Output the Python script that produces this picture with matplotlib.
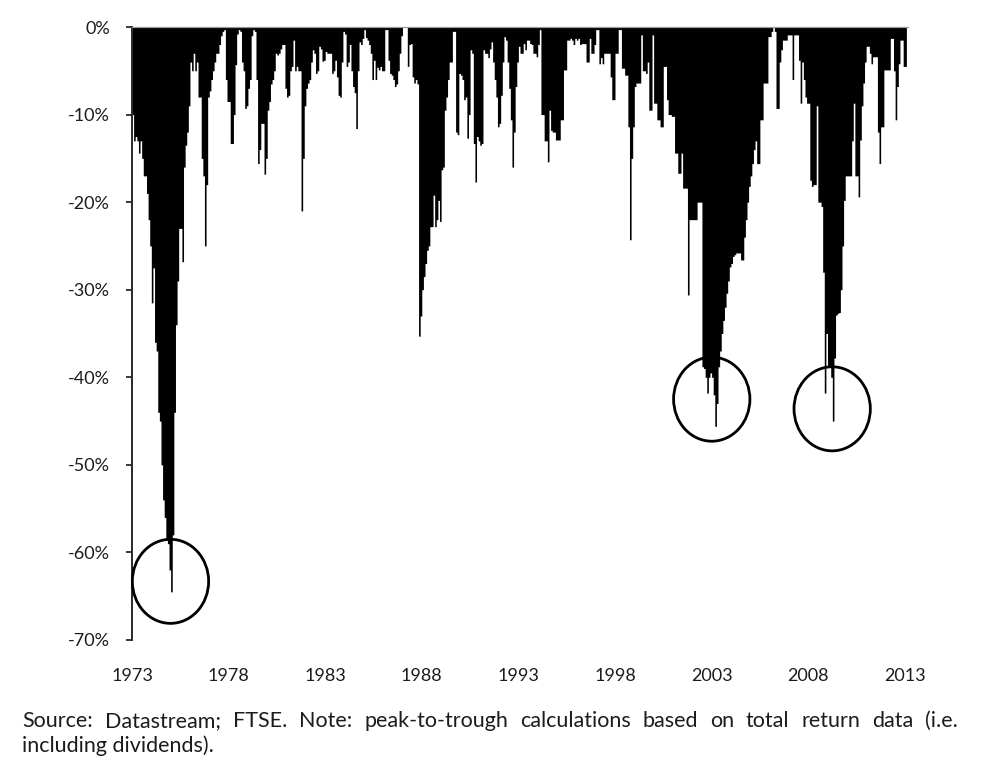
import matplotlib
matplotlib.use("Agg")
import matplotlib.pyplot as plt
import numpy as np
from matplotlib.patches import Ellipse

# Peak-to-trough drawdown (%), one value per month
START_YEAR = 1973
DD_1970S = [
    -10, -13, -12.5, -13, -14.4, -13, -15, -17, -17, -19, -22, -25,            # 1973
    -31.5, -27.5, -36, -37, -44, -45, -50, -54, -56, -58.6, -59, -62,          # 1974
    -64.5, -58, -44, -34, -29, -23, -23, -26.8, -16, -13.5, -12, -9,           # 1975
    -4, -5, -3, -5, -4, -8, -8, -15, -17, -25, -18, -8,                        # 1976
    -7.3, -6, -5, -4, -3, -3, -2, -1, -0.5, -0.3, -6, -8.5,                    # 1977
    -8.5, -13.3, -13.3, -10, -4.3, -0.8, -0.3, -0.5, -4, -5, -9.3, -9,         # 1978
    -7, -6, -1, -0.3, -0.5, -6, -15.6, -14, -11, -11, -16.8, -15,              # 1979
]
DD_1980S = [
    -9.5, -8.5, -6.5, -6, -5, -3, -3.2, -3, -2.5, -2, -2, -7,                  # 1980
    -8, -7.8, -5, -4.5, -1.5, -5, -4.5, -5, -5, -21, -15, -9,                  # 1981
    -7, -6.4, -6, -4, -2.6, -3, -5.3, -5, -2.2, -2.5, -3.9, -3.8,              # 1982
    -2.8, -3, -3, -3, -5.3, -5, -3.8, -5.7, -7.8, -8, -4, -0.5,                # 1983
    -0.8, -4.5, -4, -2, -5, -6.8, -7.5, -11.6, -5, -1.7, -2, -1.3,             # 1984
    -0.3, -1.2, -1.5, -2, -3, -6, -3.8, -6, -4.6, -4.9, -4.5, -5,              # 1985
    -5, -0.3, -0.3, -3.8, -5.3, -5.5, -6, -6.8, -6.5, -5, -3, -1,              # 1986
    0, 0, 0, -4.5, -2, -1.9, -5.7, -6.4, -6, -6.5, -35.3, -33,                 # 1987
    -30, -28.5, -27, -25.5, -25, -22.8, -22.8, -19.2, -22.8, -22, -19.8, -22.2,  # 1988
    -16.3, -16, -9.5, -8, -6, -4, -4, -0.5, -0.5, -12, -12.3, -5.3,            # 1989
]
DD_1990S = [
    -5.5, -6, -8.3, -8, -12.7, -10, -2.6, -3, -13.3, -17.7, -12.5, -13,        # 1990
    -13.5, -13.3, -2.6, -3, -3, -3.5, -2.5, -1.7, -4, -6, -8, -11.4,           # 1991
    -11, -7.8, -4, -1.1, -1.5, -4, -7, -10.6, -16, -12, -6.8, -4,              # 1992
    -2.2, -3, -3, -1.9, -2.6, -1.5, -1.5, -1.9, -2, -3, -3, -3.4,              # 1993
    -2, -0.3, -10, -10, -13, -13, -15.4, -9.5, -11.8, -12, -12, -12.9,         # 1994
    -12.9, -12.9, -10.6, -10.6, -4.9, -4.9, -1.5, -1.5, -1.3, -1.5, -2, -1.3,  # 1995
    -1.5, -1.3, -2, -1.9, -1.9, -1.9, -4, -4, -1.3, -3, -3, -2,                # 1996
    -0.3, -0.3, -4.2, -3.5, -4.2, -3, -3, -3, -3, -5.7, -8.3, -8.3,            # 1997
    -3, -3, -0.3, -0.3, -4.7, -4.7, -5.5, -5.5, -11.4, -24.3, -15, -11.4,      # 1998
    -6.8, -6.4, -6.4, -6.4, -0.9, -5, -5, -5.3, -4, -9.5, -9.5, -0.9,          # 1999
]
DD_2000S = [
    -8.7, -8.7, -10.6, -10.6, -11.4, -11.4, -4.5, -4.5, -8.3, -10, -10, -10.2,     # 2000
    -10.2, -14.4, -14.4, -16.7, -16.7, -14.4, -18.4, -18.4, -18.4, -30.6, -22, -22,  # 2001
    -22, -22, -22, -20, -20, -20, -38.8, -39, -40, -41.8, -40, -39.5,              # 2002
    -40, -42, -45.6, -43, -38.8, -37, -35, -33.5, -32, -30.4, -29, -27.4,          # 2003
    -27, -26.2, -26, -25.8, -25.8, -25.8, -26.6, -26.6, -24, -22, -20, -18.2,      # 2004
    -17, -15.6, -14, -13, -15.6, -15.6, -10.6, -10.6, -6.4, -6.4, -6.4, -1.1,      # 2005
    -1.1, -0.5, 0, -0.5, -9.3, -9.3, -4, -2.6, -1.5, -1.5, -1.5, -0.9,             # 2006
    -0.9, -0.9, -6, -0.9, -0.9, -0.9, -3.8, -8.7, -4, -6, -8, -8.7,                # 2007
    -8.7, -17.5, -18.2, -18, -18, -9, -20, -20, -20.5, -28, -41.8, -35,            # 2008
    -38.8, -38.8, -40, -45, -37.8, -32.9, -32.7, -32.6, -30, -25, -19.8, -17,      # 2009
]
DD_2010S = [
    -17, -17, -17, -13, -8.7, -17, -17, -19.4, -12.9, -9, -6.4, -4,           # 2010
    -2.2, -2.2, -3, -4.2, -3.4, -3.4, -3.4, -12, -15.6, -11.4, -11.4, -4.9,   # 2011
    -4.9, -4.9, -4.9, -1.3, -1.3, -5, -10.6, -6.8, -4.2, -1.5, -1.5, -4.5,    # 2012
    -4.5, 0,                                                                   # 2013
]

YEAR_TICKS = list(range(1973, 2014, 5))
PCT_TICKS = list(range(0, -71, -10))
# periods whose trough is circled: (from, to, circle shift in years, in %)
CIRCLED = [(1973, 1977, -0.05, 1.2), (2001, 2005, -0.2, 3.1),
           (2007, 2011, -0.05, 1.4)]
NOTE_LINE1 = ("Source: Datastream; FTSE. Note: peak-to-trough calculations "
              "based on total return data (i.e.")
NOTE_LINE2 = "including dividends)."

W, H = 986, 779
FONT = ["Lato", "DejaVu Sans"]
TXT = "#1c1c1c"


def justify(fig, text, x0, x1, y, **kw):
    # spread the words of one line evenly between x0 and x1 (pixels)
    r = fig.canvas.get_renderer()
    arts = [fig.text(0, y, w, **kw) for w in text.split()]
    widths = [a.get_window_extent(r).width for a in arts]
    gap = ((x1 - x0) - sum(widths)) / (len(arts) - 1)
    x = x0
    for a, w in zip(arts, widths):
        a.set_x(x / W)
        x += w + gap


def main():
    dd = np.array(DD_1970S + DD_1980S + DD_1990S + DD_2000S + DD_2010S,
                  dtype=float)
    t = START_YEAR + np.arange(len(dd) + 1) / 12.0
    vals = np.append(dd, dd[-1])

    plt.rcParams["font.family"] = FONT
    fig = plt.figure(figsize=(W / 100, H / 100), dpi=100)
    left, right = 132 / W, 908 / W
    bottom, top = 1 - 640 / H, 1 - 27 / H
    ax = fig.add_axes([left, bottom, right - left, top - bottom])

    ax.fill_between(t, vals, 0, step="post", color="black", lw=0)

    # circles round the three big troughs
    for a, b, dx, dy in CIRCLED:
        sel = (t[:-1] >= a) & (t[:-1] < b)
        i = np.argmin(np.where(sel, dd, np.inf))
        ax.add_patch(Ellipse((t[i] + 1 / 24 + dx, dd[i] + dy), 3.95, 9.6,
                             fill=False, ec="black", lw=2.0, zorder=5,
                             clip_on=False))

    ax.set_xlim(START_YEAR, t[-1])
    ax.set_ylim(-70, 0)
    ax.set_xticks(YEAR_TICKS)
    ax.set_xticklabels([str(y) for y in YEAR_TICKS])
    ax.set_yticks(PCT_TICKS)
    ax.set_yticklabels([f"{p}%" for p in PCT_TICKS])
    for s in ("right", "bottom"):
        ax.spines[s].set_visible(False)
    ax.spines["top"].set_color("#9a9a9a")
    ax.spines["top"].set_linewidth(0.9)
    ax.spines["left"].set_color("#2a2a2a")
    ax.spines["left"].set_linewidth(1.4)
    ax.tick_params(axis="y", length=4, width=1.3, color="#2a2a2a", pad=12,
                   labelsize=13, labelcolor=TXT)
    ax.tick_params(axis="x", length=0, pad=20, labelsize=13, labelcolor=TXT)

    justify(fig, NOTE_LINE1, 22, 958, 1 - 727 / H, fontsize=15.5, color=TXT,
            va="baseline")
    fig.text(22 / W, 1 - 752 / H, NOTE_LINE2, fontsize=15.5, color=TXT,
             va="baseline")

    fig.savefig("out.png", dpi=100, facecolor="white")


if __name__ == "__main__":
    main()
